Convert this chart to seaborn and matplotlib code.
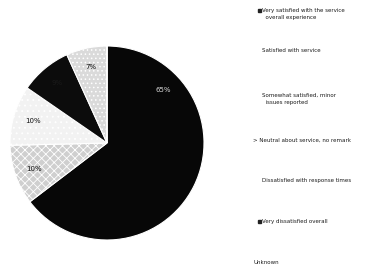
import numpy as np
import pandas as pd
import matplotlib
matplotlib.use("Agg")
import matplotlib.pyplot as plt
import seaborn as sns
from matplotlib.patches import Rectangle

sns.set_style("white")
plt.rcParams['font.family'] = ['DejaVu Sans']
plt.rcParams['hatch.linewidth'] = 0.6

# slice data (clockwise from 12 o'clock)
categories = ["Very satisfied with the service\n  overall experience",
              "Satisfied with service",
              "Somewhat satisfied, minor\n  issues reported",
              "> Neutral about service, no remark",
              "Dissatisfied with response times",
              "Very dissatisfied overall",
              "Unknown"]
shares = [64.7, 10.0, 10.0, 8.6, 6.8, 0.0, 0.0]

df = pd.DataFrame({"category": categories, "share": shares})

face = ["#070707", "#cfcfcf", "#f2f2f2", "#0c0c0c", "#dadada", "#888888", "#444444"]
hatch = ["", "xxxx", "...", "", "....", "", ""]
txt_col = ["#d8d8d8", "#111111", "#111111", "#1a1a1a", "#111111", "#111111", "#111111"]

fig = plt.figure(figsize=(3.66, 2.69), dpi=100)
ax = fig.add_axes([10 / 366, 29 / 269, 194 / 366, 194 / 269])


def pct_fmt(p):
    return f"{p:.0f}%" if p >= 1 else ""


wedges, texts, autotexts = ax.pie(df["share"], startangle=90, counterclock=False,
                                  colors=face, autopct=pct_fmt, pctdistance=0.8,
                                  wedgeprops=dict(edgecolor="white", linewidth=0.8),
                                  textprops=dict(fontsize=5))
for w, h in zip(wedges, hatch):
    w.set_hatch(h)
for t, c in zip(autotexts, txt_col):
    t.set_color(c)
# the big slice label sits up in the top right on the original
autotexts[0].set_position((0.58, 0.55))
ax.set_xlim(-1.0, 1.0)
ax.set_ylim(-1.0, 1.0)
ax.set_aspect("equal")
ax.axis("off")

# legend, hand placed like the scanned original
leg_y = [8, 48, 93, 138, 178, 219, 260]
for i, (lab, y) in enumerate(zip(df["category"], leg_y)):
    x0 = 253 if i in (3, 6) else 262
    if i in (0, 5):
        fig.add_artist(Rectangle(((x0 - 4) / 366, 1 - (y + 4) / 269), 3 / 366, 3 / 269,
                                 transform=fig.transFigure, color="#222222"))
    fig.text(x0 / 366, 1 - y / 269, lab, fontsize=4, color="#1a1a1a",
             va="top", ha="left", linespacing=1.5)

fig.savefig("out.png", dpi=100, facecolor="white")
